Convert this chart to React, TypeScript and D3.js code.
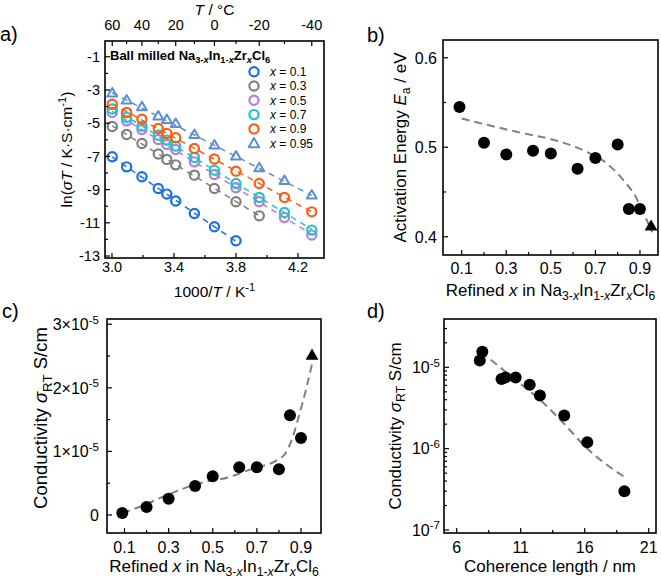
import React from 'react';
import * as d3 from 'd3';

const FONT = '"Liberation Sans", Arial, Helvetica, sans-serif';

// ---- panel a: Arrhenius data, ln(sigma*T) vs 1000/T
const tempsC = [60, 50, 40, 30, 25, 20, 10, 0, -10, -20, -30, -40];
const lnX01 = [-7.02, -7.63, -8.23, -8.93, -9.27, -9.69, -10.44, -11.24, -12.08];
const lnX03 = [-5.2, -5.68, -6.22, -6.86, -7.18, -7.51, -8.13, -8.93, -9.73, -10.58];
const lnX05 = [-4.35, -4.86, -5.38, -5.98, -6.28, -6.58, -7.33, -8.09, -8.89, -9.73, -10.68, -11.74];
const lnX07 = [-4.15, -4.65, -5.18, -5.72, -6.02, -6.38, -7.06, -7.83, -8.63, -9.47, -10.38, -11.44];
const lnX09 = [-3.86, -4.35, -4.76, -5.32, -5.62, -5.88, -6.52, -7.16, -7.89, -8.63, -9.47, -10.34];
const lnX095 = [-3.22, -3.65, -4.05, -4.61, -4.82, -5.06, -5.72, -6.36, -7.02, -7.73, -8.49, -9.37];
const seriesLabels = ['0.1', '0.3', '0.5', '0.7', '0.9', '0.95'];
const seriesColors = ['#1c6ee6', '#808080', '#b27fe0', '#1fc6c2', '#ff5c10', '#5b8fd1'];
const seriesValues = [lnX01, lnX03, lnX05, lnX07, lnX09, lnX095];

// ---- panels b, c: vs refined x
const refinedX = [0.09, 0.2, 0.3, 0.42, 0.5, 0.62, 0.7, 0.8, 0.85, 0.9, 0.95];
const actEnergy = [0.545, 0.505, 0.492, 0.496, 0.493, 0.476, 0.488, 0.503, 0.431, 0.431, 0.411];
const sigmaRT = [3.2e-7, 1.25e-6, 2.55e-6, 4.55e-6, 6.1e-6, 7.5e-6, 7.5e-6, 7.2e-6, 1.57e-5, 1.21e-5, 2.5e-5];
const bFitX = [0.1, 0.35, 0.53, 0.66, 0.74, 0.83, 0.88, 0.93, 0.955];
const bFitY = [0.532, 0.517, 0.507, 0.495, 0.484, 0.462, 0.445, 0.419, 0.405];
const cFitX = [0.09, 0.17, 0.29, 0.44, 0.58, 0.68, 0.79, 0.83, 0.86, 0.89, 0.926, 0.955];
const cFitY = [0.03e-5, 0.13e-5, 0.31e-5, 0.5e-5, 0.6e-5, 0.73e-5, 0.86e-5, 0.97e-5, 1.2e-5, 1.55e-5, 2.02e-5, 2.45e-5];

// ---- panel d: vs coherence length
const coherence = [19.1, 16.2, 14.4, 12.5, 11.7, 10.6, 9.8, 9.5, 8.0, 7.8];
const sigmaD = [3.0e-7, 1.2e-6, 2.55e-6, 4.5e-6, 6.1e-6, 7.5e-6, 7.5e-6, 7.2e-6, 1.55e-5, 1.21e-5];
const dFitX = [7.85, 9.0, 10.5, 12.5, 14.35, 16.17, 19.1];
const dFitY = [1.55e-5, 1.12e-5, 7.2e-6, 4.0e-6, 2.05e-6, 1.01e-6, 4.5e-7];

type Seg = { t: string; it?: boolean; sub?: boolean; sup?: boolean };

function Rich({ x, y, segs, size, anchor = 'start', rotate = false, bold = false }:
  { x: number; y: number; segs: Seg[]; size: number; anchor?: string; rotate?: boolean; bold?: boolean }) {
  let cur = 0;
  const spans = segs.map((s, i) => {
    const target = s.sub ? 0.25 * size : s.sup ? -0.4 * size : 0;
    const dy = target - cur;
    cur = target;
    return (
      <tspan key={i} dy={dy} fontSize={s.sub || s.sup ? size * 0.72 : size} fontStyle={s.it ? 'italic' : 'normal'}>
        {s.t}
      </tspan>
    );
  });
  return (
    <text x={x} y={y} fontSize={size} textAnchor={anchor} fontWeight={bold ? 'bold' : 'normal'}
      style={{ whiteSpace: 'pre' }} transform={rotate ? `rotate(-90,${x},${y})` : undefined}>
      {spans}
    </text>
  );
}

const formulaSegs: Seg[] = [
  { t: 'Na' }, { t: '3-', sub: true }, { t: 'x', sub: true, it: true },
  { t: 'In' }, { t: '1-', sub: true }, { t: 'x', sub: true, it: true },
  { t: 'Zr' }, { t: 'x', sub: true, it: true }, { t: 'Cl' }, { t: '6', sub: true },
];
const refinedSegs: Seg[] = [{ t: 'Refined ' }, { t: 'x', it: true }, { t: ' in ' }, ...formulaSegs];
const condSegs: Seg[] = [{ t: 'Conductivity ' }, { t: 'σ', it: true }, { t: 'RT', sub: true }, { t: ' S/cm' }];

const TICK = 5;
const MINOR = 3;

function PanelA() {
  const L = 105, R = 324, T = 41, B = 258;
  const x = d3.scaleLinear().domain([2.955, 4.368]).range([L, R]);
  const y = d3.scaleLinear().domain([-13.12, -0.05]).range([B, T]);
  const inv = (c: number) => 1000 / (c + 273.15);
  const line = d3.line<[number, number]>().x(d => x(d[0])).y(d => y(d[1]));
  const tri = d3.symbol(d3.symbolTriangle, 42)();
  const triLeg = d3.symbol(d3.symbolTriangle, 48)();
  return (
    <g>
      <text x={0} y={41} fontSize={20}>a)</text>
      {/* fits */}
      {seriesValues.map((vals, si) => {
        const pts = vals.map((v, i) => [inv(tempsC[i]), v] as [number, number]);
        const lr = d3.mean(pts, p => p[0])!;
        const mv = d3.mean(pts, p => p[1])!;
        const slope = d3.sum(pts, p => (p[0] - lr) * (p[1] - mv)) / d3.sum(pts, p => (p[0] - lr) ** 2);
        const x0 = pts[0][0], x1 = pts[pts.length - 1][0];
        return (
          <path key={'f' + si} d={line([[x0, mv + slope * (x0 - lr)], [x1, mv + slope * (x1 - lr)]])!}
            fill="none" stroke={seriesColors[si]} strokeWidth={1.5} strokeDasharray="6,5" />
        );
      })}
      {seriesValues.map((vals, si) =>
        vals.map((v, i) => si === 5
          ? <path key={si + '-' + i} d={tri!} transform={`translate(${x(inv(tempsC[i]))},${y(v)})`}
              fill="none" stroke={seriesColors[si]} strokeWidth={2} strokeLinejoin="round" />
          : <circle key={si + '-' + i} cx={x(inv(tempsC[i]))} cy={y(v)} r={4.6}
              fill="none" stroke={seriesColors[si]} strokeWidth={2.2} />)
      )}
      <rect x={L} y={T} width={R - L} height={B - T} fill="none" stroke="#000" strokeWidth={1.6} />
      {/* left axis */}
      {d3.range(-13, 0, 1).map(v => (
        <line key={'yl' + v} x1={L} x2={L + (v % 2 !== 0 ? TICK : MINOR)} y1={y(v)} y2={y(v)} stroke="#000" strokeWidth={1.2} />
      ))}
      {[-1, -3, -5, -7, -9, -11, -13].map(v => (
        <text key={'yt' + v} x={100} y={y(v) + 5.3} fontSize={14.5} textAnchor="end">{String(v)}</text>
      ))}
      {/* bottom axis */}
      {[3.0, 3.2, 3.4, 3.6, 3.8, 4.0, 4.2].map((v, i) => (
        <line key={'xb' + i} x1={x(v)} x2={x(v)} y1={B} y2={B - (i % 2 === 0 ? TICK : MINOR)} stroke="#000" strokeWidth={1.2} />
      ))}
      {[3.0, 3.4, 3.8, 4.2].map(v => (
        <text key={'xt' + v} x={x(v)} y={271.5} fontSize={14.5} textAnchor="middle">{v.toFixed(1)}</text>
      ))}
      {/* top axis in Celsius */}
      {[60, 50, 40, 30, 20, 10, 0, -10, -20, -30, -40].map((c, i) => (
        <line key={'xtop' + c} x1={x(inv(c))} x2={x(inv(c))} y1={T} y2={T + (i % 2 === 0 ? TICK : MINOR)} stroke="#000" strokeWidth={1.2} />
      ))}
      {[60, 40, 20, 0, -20, -40].map(c => (
        <text key={'ttop' + c} x={x(inv(c))} y={30} fontSize={14.5} textAnchor="middle">{String(c)}</text>
      ))}
      <Rich x={(L + R) / 2} y={15} size={15.5} anchor="middle" segs={[{ t: 'T', it: true }, { t: ' / °C' }]} />
      <Rich x={(L + R) / 2} y={297} size={15.5} anchor="middle"
        segs={[{ t: '1000/' }, { t: 'T', it: true }, { t: ' / K' }, { t: '-1', sup: true }]} />
      <Rich x={72} y={(T + B) / 2} size={15.5} anchor="middle" rotate
        segs={[{ t: 'ln(' }, { t: 'σT', it: true }, { t: ' / K·S·cm' }, { t: '-1', sup: true }, { t: ')' }]} />
      {/* legend */}
      <Rich x={110} y={60} size={13} bold segs={[{ t: 'Ball milled ' }, ...formulaSegs]} />
      {seriesLabels.map((lab, i) => {
        const cy = 71.7 + i * 14.3;
        return (
          <g key={'lg' + i}>
            {i === 5
              ? <path d={triLeg!} transform={`translate(254,${cy + 1})`} fill="none" stroke={seriesColors[i]} strokeWidth={2} strokeLinejoin="round" />
              : <circle cx={254} cy={cy} r={4.6} fill="none" stroke={seriesColors[i]} strokeWidth={2.2} />}
            <Rich x={270} y={cy + 4.3} size={12} segs={[{ t: 'x', it: true }, { t: ' = ' + lab }]} />
          </g>
        );
      })}
    </g>
  );
}

function PanelB() {
  const L = 443, R = 658, T = 40, B = 255;
  const x = d3.scaleLinear().domain([0.016, 0.981]).range([L, R]);
  const y = d3.scaleLinear().domain([0.3796, 0.6198]).range([B, T]);
  const fit = d3.line<number>().x((_, i) => x(bFitX[i])).y(d => y(d)).curve(d3.curveMonotoneX);
  const tri = d3.symbol(d3.symbolTriangle, 72)();
  return (
    <g>
      <text x={367} y={42} fontSize={20}>b)</text>
      <path d={fit(bFitY)!} fill="none" stroke="#808080" strokeWidth={2} strokeDasharray="8,5" />
      {refinedX.map((v, i) => i === refinedX.length - 1
        ? <path key={i} d={tri!} transform={`translate(${x(v)},${y(actEnergy[i])})`} fill="#000" />
        : <circle key={i} cx={x(v)} cy={y(actEnergy[i])} r={6} fill="#000" />)}
      <rect x={L} y={T} width={R - L} height={B - T} fill="none" stroke="#000" strokeWidth={1.6} />
      {[0.4, 0.45, 0.5, 0.55, 0.6].map((v, i) => (
        <line key={'yl' + i} x1={L} x2={L + (i % 2 === 0 ? TICK : MINOR)} y1={y(v)} y2={y(v)} stroke="#000" strokeWidth={1.2} />
      ))}
      {[0.4, 0.5, 0.6].map(v => (
        <text key={'yt' + v} x={437} y={y(v) + 5.8} fontSize={16} textAnchor="end">{v.toFixed(1)}</text>
      ))}
      {d3.range(0.1, 0.95, 0.1).map((v, i) => (
        <line key={'xl' + i} x1={x(v)} x2={x(v)} y1={B} y2={B - (i % 2 === 0 ? TICK : MINOR)} stroke="#000" strokeWidth={1.2} />
      ))}
      {[0.1, 0.3, 0.5, 0.7, 0.9].map(v => (
        <text key={'xt' + v} x={x(v)} y={274} fontSize={16} textAnchor="middle">{v.toFixed(1)}</text>
      ))}
      <Rich x={(L + R) / 2} y={296} size={17} anchor="middle" segs={refinedSegs} />
      <Rich x={406} y={(T + B) / 2} size={17} anchor="middle" rotate
        segs={[{ t: 'Activation Energy ' }, { t: 'E', it: true }, { t: 'a', sub: true }, { t: ' / eV' }]} />
    </g>
  );
}

function PanelC() {
  const L = 107, R = 321, T = 319, B = 533;
  const x = d3.scaleLinear().domain([0.0207, 0.9907]).range([L, R]);
  const y = d3.scaleLinear().domain([-0.283e-5, 3.082e-5]).range([B, T]);
  const fit = d3.line<number>().x((_, i) => x(cFitX[i])).y(d => y(d)).curve(d3.curveMonotoneX);
  const tri = d3.symbol(d3.symbolTriangle, 72)();
  return (
    <g>
      <text x={2} y={318} fontSize={20}>c)</text>
      <path d={fit(cFitY)!} fill="none" stroke="#808080" strokeWidth={2} strokeDasharray="8,5" />
      {refinedX.map((v, i) => i === refinedX.length - 1
        ? <path key={i} d={tri!} transform={`translate(${x(v)},${y(sigmaRT[i])})`} fill="#000" />
        : <circle key={i} cx={x(v)} cy={y(sigmaRT[i])} r={6} fill="#000" />)}
      <rect x={L} y={T} width={R - L} height={B - T} fill="none" stroke="#000" strokeWidth={1.6} />
      {[0, 0.5e-5, 1e-5, 1.5e-5, 2e-5, 2.5e-5, 3e-5].map((v, i) => (
        <line key={'yl' + i} x1={L} x2={L + (i % 2 === 0 ? TICK : MINOR)} y1={y(v)} y2={y(v)} stroke="#000" strokeWidth={1.2} />
      ))}
      <text x={99} y={y(0) + 5.8} fontSize={16} textAnchor="end">0</text>
      {[1, 2, 3].map(m => (
        <Rich key={'yt' + m} x={99} y={y(m * 1e-5) + 5.8} size={16} anchor="end"
          segs={[{ t: m + '×10' }, { t: '-5', sup: true }]} />
      ))}
      {d3.range(0.1, 0.95, 0.1).map((v, i) => (
        <line key={'xl' + i} x1={x(v)} x2={x(v)} y1={B} y2={B - (i % 2 === 0 ? TICK : MINOR)} stroke="#000" strokeWidth={1.2} />
      ))}
      {[0.1, 0.3, 0.5, 0.7, 0.9].map(v => (
        <text key={'xt' + v} x={x(v)} y={553} fontSize={16} textAnchor="middle">{v.toFixed(1)}</text>
      ))}
      <Rich x={(L + R) / 2} y={572} size={17} anchor="middle" segs={refinedSegs} />
      <Rich x={47} y={(T + B) / 2 - 8} size={18.5} anchor="middle" rotate segs={condSegs} />
    </g>
  );
}

function PanelD() {
  const L = 444, R = 656, T = 319, B = 533;
  const x = d3.scaleLinear().domain([5.005, 21.57]).range([L, R]);
  const y = d3.scaleLog().domain([Math.pow(10, -7.037), Math.pow(10, -4.406)]).range([B, T]);
  const fit = d3.line<number>().x((_, i) => x(dFitX[i])).y(d => y(d)).curve(d3.curveMonotoneX);
  const minors: number[] = [];
  [-7, -6, -5].forEach(e => d3.range(2, 10).forEach(k => {
    const v = k * Math.pow(10, e);
    if (y(v) >= T) minors.push(v);
  }));
  return (
    <g>
      <text x={367} y={318} fontSize={20}>d)</text>
      <path d={fit(dFitY)!} fill="none" stroke="#808080" strokeWidth={2} strokeDasharray="8,5" />
      {coherence.map((v, i) => <circle key={i} cx={x(v)} cy={y(sigmaD[i])} r={6} fill="#000" />)}
      <rect x={L} y={T} width={R - L} height={B - T} fill="none" stroke="#000" strokeWidth={1.6} />
      {[1e-7, 1e-6, 1e-5].map(v => (
        <line key={'yM' + v} x1={L} x2={L + TICK} y1={y(v)} y2={y(v)} stroke="#000" strokeWidth={1.2} />
      ))}
      {minors.map((v, i) => (
        <line key={'ym' + i} x1={L} x2={L + MINOR} y1={y(v)} y2={y(v)} stroke="#000" strokeWidth={1.2} />
      ))}
      {[-7, -6, -5].map(e => (
        <Rich key={'yt' + e} x={440} y={y(Math.pow(10, e)) + 5.8} size={16} anchor="end"
          segs={[{ t: '10' }, { t: String(e), sup: true }]} />
      ))}
      {[6, 8.5, 11, 13.5, 16, 18.5, 21].map((v, i) => (
        <line key={'xl' + i} x1={x(v)} x2={x(v)} y1={B} y2={B - (i % 2 === 0 ? TICK : MINOR)} stroke="#000" strokeWidth={1.2} />
      ))}
      {[6, 11, 16, 21].map(v => (
        <text key={'xt' + v} x={x(v)} y={553} fontSize={16} textAnchor="middle">{String(v)}</text>
      ))}
      <text x={(L + R) / 2} y={572} fontSize={17} textAnchor="middle">Coherence length / nm</text>
      <Rich x={401} y={(T + B) / 2} size={17} anchor="middle" rotate segs={condSegs} />
    </g>
  );
}

export default function App() {
  return (
    <svg width={661} height={580} style={{ position: 'absolute', left: 0, top: 0, background: '#fff' }}
      fontFamily={FONT} fill="#000">
      <rect width={661} height={580} fill="#fff" />
      <PanelA />
      <PanelB />
      <PanelC />
      <PanelD />
    </svg>
  );
}
